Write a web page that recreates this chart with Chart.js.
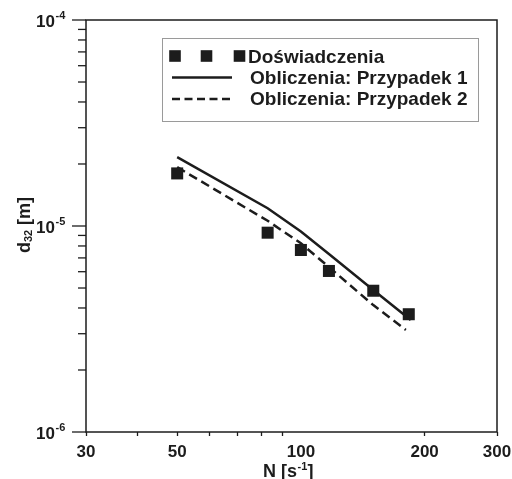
<!DOCTYPE html>
<html><head><meta charset="utf-8">
<script src="https://cdn.jsdelivr.net/npm/chart.js@4"></script>
<style>html,body{margin:0;padding:0;background:#fff;}#wrap{width:512px;height:479px;}</style>
</head><body><div id="wrap"><canvas id="c" width="512" height="479"></canvas></div>
<script>
// ---- data ----
const expN = [50, 83, 100, 117, 150, 183];
const expD = [1.80e-5, 9.28e-6, 7.65e-6, 6.05e-6, 4.85e-6, 3.73e-6];
const calc1N = [50, 83, 100, 117, 150, 185];
const calc1D = [2.16e-5, 1.22e-5, 9.40e-6, 7.31e-6, 4.89e-6, 3.50e-6];
const calc2N = [50, 83, 100, 117, 150, 180];
const calc2D = [1.93e-5, 1.06e-5, 8.24e-6, 6.32e-6, 4.13e-6, 3.13e-6];
const seriesLabels = ['Doświadczenia', 'Obliczenia: Przypadek 1', 'Obliczenia: Przypadek 2'];
const xTickValues = [30, 40, 50, 60, 70, 80, 90, 100, 200, 300];
const xTickLabels = [30, 50, 100, 200, 300];
const xHiddenTicks = [100];
const yMajorTicks = [1e-6, 1e-5, 1e-4];
const yMajorExp = ['-6', '-5', '-4'];
const yMinorTicks = [2e-6, 3e-6, 4e-6, 5e-6, 6e-6, 7e-6, 8e-6, 9e-6, 2e-5, 3e-5, 4e-5, 5e-5, 6e-5, 7e-5, 8e-5, 9e-5];
const xTitle = ['N [s', '-1', ']'];
const yTitle = ['d', '32', ' [m]'];

const FONT = '"Liberation Sans", Arial, sans-serif';
const INK = '#1c1c1c';

const pts = (xs, ys) => xs.map((x, i) => ({x: x, y: ys[i]}));

const decor = {
  id: 'decor',
  afterDraw(chart) {
    const ctx = chart.ctx, a = chart.chartArea, y = chart.scales.y;
    ctx.save();
    ctx.strokeStyle = INK; ctx.lineWidth = 1.5;
    ctx.strokeRect(a.left, a.top, a.right - a.left, a.bottom - a.top);
    ctx.lineWidth = 1.3;
    yMajorTicks.forEach(v => { const p = y.getPixelForValue(v); ctx.beginPath(); ctx.moveTo(a.left - 14, p); ctx.lineTo(a.left, p); ctx.stroke(); });
    yMinorTicks.forEach(v => { const p = y.getPixelForValue(v); ctx.beginPath(); ctx.moveTo(a.left - 8, p); ctx.lineTo(a.left, p); ctx.stroke(); });
    ctx.fillStyle = INK; ctx.textBaseline = 'alphabetic';
    yMajorTicks.forEach((v, i) => {
      const p = y.getPixelForValue(v);
      ctx.font = 'bold 17px ' + FONT; ctx.textAlign = 'right';
      ctx.fillText('10', a.left - 31, p + 6.5);
      ctx.font = 'bold 11px ' + FONT; ctx.textAlign = 'left';
      ctx.fillText(yMajorExp[i], a.left - 30.5, p - 1.5);
    });
    // x title
    const f1 = 'bold 18px ' + FONT, f2 = 'bold 11px ' + FONT;
    ctx.font = f1; const w0 = ctx.measureText(xTitle[0]).width, w2 = ctx.measureText(xTitle[2]).width;
    ctx.font = f2; const w1 = ctx.measureText(xTitle[1]).width;
    let sx = 288 - (w0 + w1 + w2) / 2;
    ctx.textAlign = 'left';
    ctx.font = f1; ctx.fillText(xTitle[0], sx, 476.5); sx += w0 + 0.5;
    ctx.font = f2; ctx.fillText(xTitle[1], sx, 470); sx += w1;
    ctx.font = f1; ctx.fillText(xTitle[2], sx, 476.5);
    // y title
    ctx.save();
    ctx.translate(30, 225); ctx.rotate(-Math.PI / 2);
    ctx.font = f1; const v0 = ctx.measureText(yTitle[0]).width, v2 = ctx.measureText(yTitle[2]).width;
    ctx.font = f2; const v1 = ctx.measureText(yTitle[1]).width;
    let sy = -(v0 + v1 + v2) / 2;
    ctx.font = f1; ctx.fillText(yTitle[0], sy, 0); sy += v0;
    ctx.font = f2; ctx.fillText(yTitle[1], sy, 2); sy += v1;
    ctx.font = f1; ctx.fillText(yTitle[2], sy, 0);
    ctx.restore();
    // legend
    const ds = chart.data.datasets;
    ctx.strokeStyle = '#9a9a9a'; ctx.lineWidth = 1;
    ctx.strokeRect(162.5, 38.5, 316, 83);
    ctx.fillStyle = INK;
    [175, 206.5, 239.5].forEach(cx => ctx.fillRect(cx - 5.8, 56 - 5.8, 11.6, 11.6));
    ctx.strokeStyle = INK; ctx.lineWidth = 2.5;
    ctx.beginPath(); ctx.moveTo(172, 77.5); ctx.lineTo(232, 77.5); ctx.stroke();
    ctx.setLineDash([8, 4.5]);
    ctx.beginPath(); ctx.moveTo(172, 99); ctx.lineTo(233, 99); ctx.stroke();
    ctx.setLineDash([]);
    ctx.font = 'bold 19px ' + FONT; ctx.textAlign = 'left';
    ctx.fillText(ds[0].label, 248, 63);
    ctx.fillText(ds[1].label, 250, 84);
    ctx.fillText(ds[2].label, 250, 105);
    ctx.restore();
  }
};

new Chart(document.getElementById('c'), {
  type: 'scatter',
  data: {
    datasets: [
      { label: seriesLabels[0], data: pts(expN, expD), showLine: false, pointStyle: 'rect', pointRadius: 8.5, pointHoverRadius: 8.5, backgroundColor: INK, borderColor: INK, borderWidth: 0, order: 0 },
      { label: seriesLabels[1], data: pts(calc1N, calc1D), showLine: true, borderColor: INK, borderWidth: 2.5, pointRadius: 0, tension: 0, order: 1 },
      { label: seriesLabels[2], data: pts(calc2N, calc2D), showLine: true, borderColor: INK, borderWidth: 2.5, borderDash: [9, 5], pointRadius: 0, tension: 0, order: 2 }
    ]
  },
  options: {
    responsive: false, animation: false, events: [],
    layout: { padding: { left: 0, top: 20, right: 15, bottom: 0 } },
    plugins: { legend: { display: false }, tooltip: { enabled: false } },
    scales: {
      x: {
        type: 'logarithmic', min: 30, max: 300,
        afterFit: s => { s.height = 47; s.paddingLeft = 0; s.paddingRight = 0; },
        afterBuildTicks: s => { s.ticks = xTickValues.map(v => ({ value: v })); },
        grid: { drawOnChartArea: false, tickLength: 4, tickWidth: 1.3, tickColor: c => (c.tick && xHiddenTicks.includes(c.tick.value)) ? 'rgba(0,0,0,0)' : INK },
        border: { display: false },
        ticks: { autoSkip: false, maxRotation: 0, minRotation: 0, padding: 6, color: INK, font: { family: FONT, size: 17, weight: 'bold' }, callback: v => xTickLabels.includes(v) ? String(v) : '' }
      },
      y: {
        type: 'logarithmic', min: 1e-6, max: 1e-4,
        afterFit: s => { s.width = 86; s.paddingTop = 0; s.paddingBottom = 0; },
        ticks: { display: false },
        grid: { display: false },
        border: { display: false }
      }
    }
  },
  plugins: [decor]
});
</script>
</body></html>
